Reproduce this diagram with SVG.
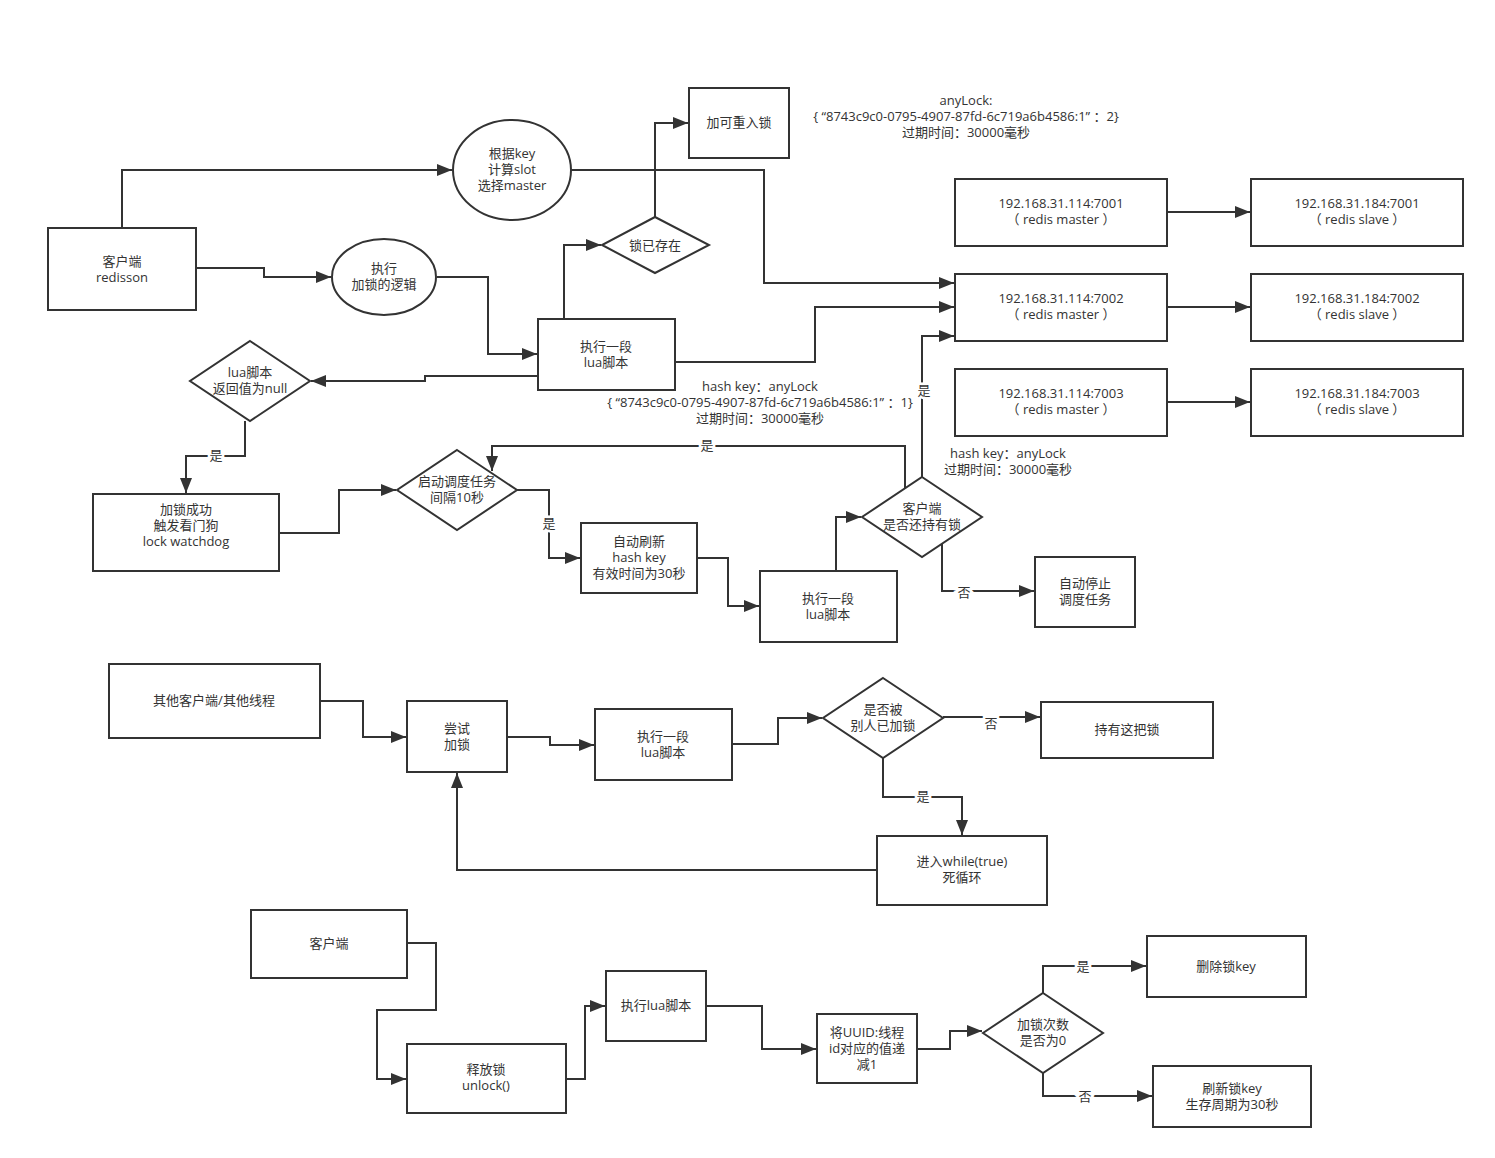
<svg xmlns="http://www.w3.org/2000/svg" width="1495" height="1158" viewBox="0 0 1495 1158">
<style>
.n{fill:#fff;stroke:#333;stroke-width:2}
.c{fill:none;stroke:#333;stroke-width:2}
text{font-family:"Open Sans","Noto Sans CJK SC","Microsoft YaHei",sans-serif;font-size:13px;fill:#333;text-anchor:middle}
.lb{paint-order:stroke;stroke:#fff;stroke-width:5px}
</style>
<defs>
<marker id="a" markerUnits="userSpaceOnUse" markerWidth="16" markerHeight="12" refX="15" refY="6" orient="auto">
<path d="M0,0 L15,6 L0,12 Z" fill="#333"/>
</marker>
</defs>
<rect width="1495" height="1158" fill="#fff"/>
<g id="connectors" marker-end="url(#a)">
<polyline class="c" points="122,228 122,170 452,170"/>
<polyline class="c" points="196,268 264,268 264,277 331,277"/>
<polyline class="c" points="437,277 488,277 488,354 537,354"/>
<polyline class="c" points="564,319 564,245 601,245"/>
<polyline class="c" points="655,217 655,123 688,123"/>
<polyline class="c" points="571,170 764,170 764,283 954,283"/>
<polyline class="c" points="675,362 815,362 815,307 954,307"/>
<polyline class="c" points="538,376 425,376 425,381 311,381"/>
<polyline class="c" points="245,421 245,456 186,456 186,493"/>
<polyline class="c" points="279,533 339,533 339,490 396,490"/>
<polyline class="c" points="517,490 549,490 549,558 580,558"/>
<polyline class="c" points="697,558 728,558 728,606 759,606"/>
<polyline class="c" points="836,571 836,517 861,517"/>
<polyline class="c" points="905,488 905,446 492,446 492,471"/>
<polyline class="c" points="922,477 922,336 954,336"/>
<polyline class="c" points="942,544 942,591 1034,591"/>
<polyline class="c" points="1167,212 1250,212"/>
<polyline class="c" points="1167,307 1250,307"/>
<polyline class="c" points="1167,402 1250,402"/>
<polyline class="c" points="320,701 363,701 363,737 406,737"/>
<polyline class="c" points="507,737 550,737 550,745 594,745"/>
<polyline class="c" points="732,744 778,744 778,718 822,718"/>
<polyline class="c" points="943,717 1040,717"/>
<polyline class="c" points="883,758 883,797 962,797 962,835"/>
<polyline class="c" points="877,870 457,870 457,773"/>
<polyline class="c" points="407,943 436,943 436,1010 377,1010 377,1079 406,1079"/>
<polyline class="c" points="566,1079 585,1079 585,1006 605,1006"/>
<polyline class="c" points="706,1006 762,1006 762,1049 816,1049"/>
<polyline class="c" points="917,1049 950,1049 950,1031 982,1031"/>
<polyline class="c" points="1043,993 1043,966 1146,966"/>
<polyline class="c" points="1043,1073 1043,1096 1152,1096"/>
</g>
<g id="edge-labels">
<text class="lb" x="216" y="460">是</text>
<text class="lb" x="549" y="528">是</text>
<text class="lb" x="707" y="450">是</text>
<text class="lb" x="924" y="395">是</text>
<text class="lb" x="964" y="597">否</text>
<text class="lb" x="991" y="728">否</text>
<text class="lb" x="923" y="801">是</text>
<text class="lb" x="1083" y="971">是</text>
<text class="lb" x="1085" y="1101">否</text>
</g>
<g id="client-redisson"><rect class="n" x="48" y="228" width="148" height="82"/><text x="122" y="266">客户端<tspan x="122" dy="16">redisson</tspan></text></g>
<g id="calc-slot"><ellipse class="n" cx="512" cy="170" rx="59" ry="50"/><text x="512" y="158">根据key<tspan x="512" dy="16">计算slot</tspan><tspan x="512" dy="16">选择master</tspan></text></g>
<g id="lock-logic"><ellipse class="n" cx="384" cy="277" rx="52" ry="38"/><text x="384" y="273">执行<tspan x="384" dy="16">加锁的逻辑</tspan></text></g>
<g id="reentrant"><rect class="n" x="689" y="88" width="100" height="70"/><text x="739" y="127">加可重入锁</text></g>
<g id="note-anylock"><text x="966" y="105">anyLock:<tspan x="966" dy="16">{ “8743c9c0-0795-4907-87fd-6c719a6b4586:1” ：2}</tspan><tspan x="966" dy="16">过期时间：30000毫秒</tspan></text></g>
<g id="lock-exists"><polygon class="n" points="655,217 709,245 655,273 602,245"/><text x="655" y="250">锁已存在</text></g>
<g id="lua1"><rect class="n" x="538" y="319" width="137" height="71"/><text x="606" y="351">执行一段<tspan x="606" dy="16">lua脚本</tspan></text></g>
<g id="lua-null"><polygon class="n" points="250,341 310,381 250,421 190,381"/><text x="250" y="377">lua脚本<tspan x="250" dy="16">返回值为null</tspan></text></g>
<g id="m7001"><rect class="n" x="955" y="179" width="212" height="67"/><text x="1061" y="208">192.168.31.114:7001<tspan x="1061" dy="16">（ redis master ）</tspan></text></g>
<g id="m7002"><rect class="n" x="955" y="274" width="212" height="67"/><text x="1061" y="303">192.168.31.114:7002<tspan x="1061" dy="16">（ redis master ）</tspan></text></g>
<g id="m7003"><rect class="n" x="955" y="369" width="212" height="67"/><text x="1061" y="398">192.168.31.114:7003<tspan x="1061" dy="16">（ redis master ）</tspan></text></g>
<g id="s7001"><rect class="n" x="1251" y="179" width="212" height="67"/><text x="1357" y="208">192.168.31.184:7001<tspan x="1357" dy="16">（ redis slave ）</tspan></text></g>
<g id="s7002"><rect class="n" x="1251" y="274" width="212" height="67"/><text x="1357" y="303">192.168.31.184:7002<tspan x="1357" dy="16">（ redis slave ）</tspan></text></g>
<g id="s7003"><rect class="n" x="1251" y="369" width="212" height="67"/><text x="1357" y="398">192.168.31.184:7003<tspan x="1357" dy="16">（ redis slave ）</tspan></text></g>
<g id="note-hashkey1"><text x="760" y="391">hash key：anyLock<tspan x="760" dy="16">{ “8743c9c0-0795-4907-87fd-6c719a6b4586:1” ：1}</tspan><tspan x="760" dy="16">过期时间：30000毫秒</tspan></text></g>
<g id="lock-success"><rect class="n" x="93" y="494" width="186" height="77"/><text x="186" y="514">加锁成功<tspan x="186" dy="16">触发看门狗</tspan><tspan x="186" dy="16">lock watchdog</tspan></text></g>
<g id="schedule"><polygon class="n" points="457,450 517,490 457,530 397,490"/><text x="457" y="486">启动调度任务<tspan x="457" dy="16">间隔10秒</tspan></text></g>
<g id="refresh"><rect class="n" x="581" y="523" width="116" height="70"/><text x="639" y="546">自动刷新<tspan x="639" dy="16">hash key</tspan><tspan x="639" dy="16">有效时间为30秒</tspan></text></g>
<g id="lua2"><rect class="n" x="760" y="571" width="137" height="71"/><text x="828" y="603">执行一段<tspan x="828" dy="16">lua脚本</tspan></text></g>
<g id="still-hold"><polygon class="n" points="922,477 982,517 922,557 862,517"/><text x="922" y="513">客户端<tspan x="922" dy="16">是否还持有锁</tspan></text></g>
<g id="note-hashkey2"><text x="1008" y="458">hash key：anyLock<tspan x="1008" dy="16">过期时间：30000毫秒</tspan></text></g>
<g id="stop-schedule"><rect class="n" x="1035" y="557" width="100" height="70"/><text x="1085" y="588">自动停止<tspan x="1085" dy="16">调度任务</tspan></text></g>
<g id="other-client"><rect class="n" x="109" y="664" width="211" height="74"/><text x="214" y="705">其他客户端/其他线程</text></g>
<g id="try-lock"><rect class="n" x="407" y="701" width="100" height="71"/><text x="457" y="733">尝试<tspan x="457" dy="16">加锁</tspan></text></g>
<g id="lua3"><rect class="n" x="595" y="709" width="137" height="71"/><text x="663" y="741">执行一段<tspan x="663" dy="16">lua脚本</tspan></text></g>
<g id="locked-by-other"><polygon class="n" points="883,678 943,718 883,758 823,718"/><text x="883" y="714">是否被<tspan x="883" dy="16">别人已加锁</tspan></text></g>
<g id="hold-lock"><rect class="n" x="1041" y="702" width="172" height="56"/><text x="1127" y="734">持有这把锁</text></g>
<g id="while-loop"><rect class="n" x="877" y="836" width="170" height="69"/><text x="962" y="866">进入while(true)<tspan x="962" dy="16">死循环</tspan></text></g>
<g id="client2"><rect class="n" x="251" y="910" width="156" height="68"/><text x="329" y="948">客户端</text></g>
<g id="unlock"><rect class="n" x="407" y="1044" width="159" height="69"/><text x="486" y="1074">释放锁<tspan x="486" dy="16">unlock()</tspan></text></g>
<g id="lua4"><rect class="n" x="606" y="971" width="100" height="70"/><text x="656" y="1010">执行lua脚本</text></g>
<g id="decrement"><rect class="n" x="817" y="1014" width="100" height="69"/><text x="867" y="1037">将UUID:线程<tspan x="867" dy="16">id对应的值递</tspan><tspan x="867" dy="16">减1</tspan></text></g>
<g id="count-zero"><polygon class="n" points="1043,993 1103,1033 1043,1073 983,1033"/><text x="1043" y="1029">加锁次数<tspan x="1043" dy="16">是否为0</tspan></text></g>
<g id="delete-key"><rect class="n" x="1147" y="936" width="159" height="61"/><text x="1226" y="971">删除锁key</text></g>
<g id="refresh-key"><rect class="n" x="1153" y="1066" width="158" height="61"/><text x="1232" y="1093">刷新锁key<tspan x="1232" dy="16">生存周期为30秒</tspan></text></g>
</svg>
